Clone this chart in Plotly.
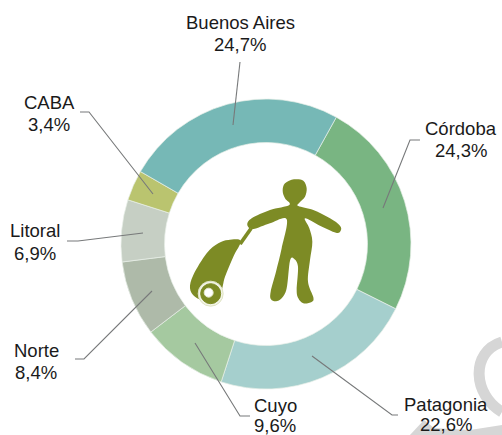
import plotly.graph_objects as go

W, H = 502, 435
categories = ["Córdoba", "Patagonia", "Cuyo", "Norte", "Litoral", "CABA", "Buenos Aires"]
values = [24.3, 22.6, 9.6, 8.4, 6.9, 3.4, 24.7]
value_labels = ["24,3%", "22,6%", "9,6%", "8,4%", "6,9%", "3,4%", "24,7%"]
colors = ["#79b582", "#a5cfcd", "#a5c9a0", "#aebaa9", "#c6cfc4", "#bac46f", "#76b8b6"]
label_xy = [(461, 139), (446, 415), (275, 416), (36, 361), (35, 242), (49, 114), (240, 34)]
leaders = [
    [(420, 140), (410, 140), (383, 208)],
    [(398, 415), (392, 415), (312, 356)],
    [(250, 416), (240, 416), (195, 343)],
    [(75, 359), (84, 359), (152, 291)],
    [(67, 241), (78, 241), (143, 233)],
    [(80, 112), (89, 112), (153, 194)],
    [(240, 62), (240, 62), (233, 125)],
]

OLIVE = "#7d8b25"

def px(x, y):
    return x / W, 1 - y / H

def poly(pts):
    s = []
    for i, (x, y) in enumerate(pts):
        a, b = px(x, y)
        s.append(f"{'M' if i == 0 else 'L'}{a:.5f},{b:.5f}")
    return " ".join(s)

def smooth(zpts):
    # closed Catmull-Rom curve through the outline points
    pts = [px(170 + x / 3, 160 + y / 3) for x, y in zpts]
    n = len(pts)
    s = f"M{pts[0][0]:.5f},{pts[0][1]:.5f}"
    for i in range(n):
        p0, p1, p2, p3 = pts[i - 1], pts[i], pts[(i + 1) % n], pts[(i + 2) % n]
        c1 = (p1[0] + (p2[0] - p0[0]) / 6, p1[1] + (p2[1] - p0[1]) / 6)
        c2 = (p2[0] - (p3[0] - p1[0]) / 6, p2[1] - (p3[1] - p1[1]) / 6)
        s += f" C{c1[0]:.5f},{c1[1]:.5f} {c2[0]:.5f},{c2[1]:.5f} {p2[0]:.5f},{p2[1]:.5f}"
    return s + " Z"

person = [(338, 92), (345, 70), (372, 58), (400, 62), (410, 85), (405, 110), (388, 128), (385, 138),
          (430, 150), (480, 175), (510, 197), (512, 212), (498, 218), (450, 197), (405, 175),
          (418, 205), (427, 245), (420, 300), (414, 365), (430, 412), (425, 426), (400, 430), (385, 415),
          (380, 390), (384, 320), (372, 296), (360, 302), (350, 385), (335, 415), (318, 424), (303, 418),
          (302, 395), (318, 335), (335, 265), (350, 178), (300, 190), (250, 207), (232, 195), (245, 175),
          (300, 150), (358, 135), (345, 115)]
case = [(175, 240), (212, 243), (190, 290), (165, 350), (150, 400), (110, 422), (75, 410), (60, 385),
        (70, 345), (110, 280), (145, 250)]

def circle(zx, zy, r, fill, line=None):
    cx, cy = 170 + zx / 3, 160 + zy / 3
    x0, y0 = px(cx - r, cy - r)
    x1, y1 = px(cx + r, cy + r)
    return dict(type="circle", xref="paper", yref="paper", x0=x0, x1=x1, y0=y0, y1=y1,
                fillcolor=fill, line=dict(color=line or fill, width=1))

shapes = []
a = px(502, 342); b = px(470, 352); c = px(473, 395); d = px(502, 412)
shapes.append(dict(type="path", xref="paper", yref="paper", layer="below",
                   path=f"M{a[0]:.5f},{a[1]:.5f} C{b[0]:.5f},{b[1]:.5f} {c[0]:.5f},{c[1]:.5f} {d[0]:.5f},{d[1]:.5f}",
                   line=dict(color="#d6d6d6", width=11), fillcolor="rgba(0,0,0,0)"))
shapes.append(dict(type="path", xref="paper", yref="paper", layer="below",
                   path=poly([(410, 435), (424, 420), (434, 428), (470, 430), (502, 425), (502, 435)]) + " Z",
                   fillcolor="#d6d6d6", line=dict(width=0)))

for pts in leaders:
    shapes.append(dict(type="path", xref="paper", yref="paper", path=poly(pts),
                       line=dict(color="#77797a", width=1.1)))

shapes.append(dict(type="path", xref="paper", yref="paper",
                   path=poly([(170 + 238 / 3, 160 + 203 / 3), (170 + 248 / 3, 160 + 208 / 3),
                              (170 + 215 / 3, 160 + 255 / 3), (170 + 205 / 3, 160 + 250 / 3)]) + " Z",
                   fillcolor=OLIVE, line=dict(width=0)))
shapes.append(dict(type="path", xref="paper", yref="paper", path=smooth(person), fillcolor=OLIVE, line=dict(width=0)))
shapes.append(dict(type="path", xref="paper", yref="paper", path=smooth(case), fillcolor=OLIVE, line=dict(width=0)))
shapes.append(circle(122, 401, 12.5, "#f2f4e6", "#dfe3c4"))
shapes.append(circle(122, 401, 10, OLIVE))
shapes.append(circle(116, 398, 4.5, "#ffffff", "#e6ead0"))

annotations = []
for name, val, (x, y) in zip(categories, value_labels, label_xy):
    for text, yy in ((name, y - 11), (val, y + 11 - (2 if y > 400 else 0))):
        ax, ay = px(x, yy)
        annotations.append(dict(text=text, x=ax, y=ay, xref="paper", yref="paper",
                                xanchor="center", yanchor="middle", showarrow=False, align="center",
                                font=dict(family="Liberation Sans", size=18.5, color="#1a1a1a")))

fig = go.Figure(go.Pie(
    labels=categories, values=values, sort=False, direction="clockwise", rotation=29,
    hole=0.70, textinfo="none", showlegend=False,
    marker=dict(colors=colors, line=dict(color="#e8efe8", width=0.7)),
    domain=dict(x=[121 / W, 411 / W], y=[1 - 389 / H, 1 - 99 / H]),
))
fig.update_layout(width=W, height=H, margin=dict(l=0, r=0, t=0, b=0),
                  paper_bgcolor="white", plot_bgcolor="rgba(0,0,0,0)",
                  shapes=shapes, annotations=annotations)
fig.write_html("out.html", config=dict(displayModeBar=False),
               post_script="document.body.style.margin='0';document.documentElement.style.overflow='hidden';")
